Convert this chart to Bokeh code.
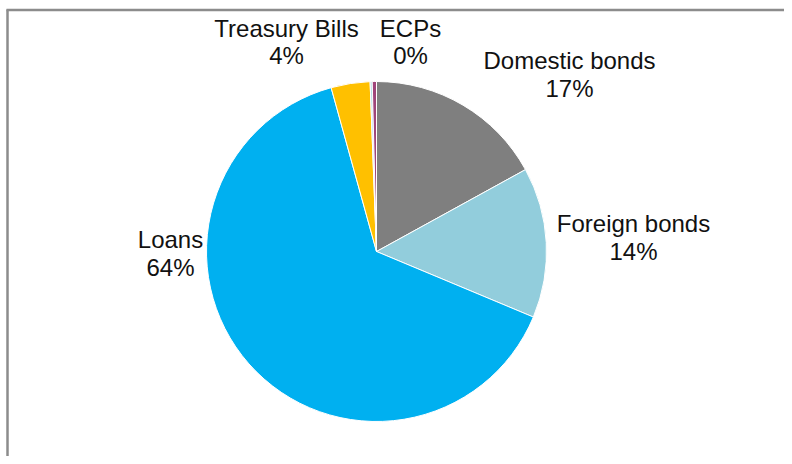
from bokeh.plotting import figure
from bokeh.models import Range1d, ColumnDataSource
from bokeh.core.properties import value
from bokeh.embed import file_html
from bokeh.resources import INLINE
import numpy as np

# ---- data ----
categories = ["Domestic bonds", "Foreign bonds", "Loans", "Treasury Bills", "Other", "ECPs"]
shares = [17.0, 14.3, 64.4, 3.7, 0.2, 0.4]
colors = ["#7F7F7F", "#92CDDC", "#00B0F0", "#FFC000", "#B7DEE8", "#A0457A"]
labelled = ["Treasury Bills", "ECPs", "Domestic bonds", "Foreign bonds", "Loans"]
label_pct = ["4%", "0%", "17%", "14%", "64%"]

# ---- layout (screenshot pixel coordinates) ----
W, H = 784, 456
cx, cy_img, R = 376, 251, 170
label_x = [286, 410, 569, 633, 170]
label_y1 = [28, 28, 60, 223, 239]
label_y2 = [55, 55, 88, 251, 267]

def ydata(y_img):
    return H - y_img

p = figure(width=W, height=H, output_backend="svg", toolbar_location=None,
           x_range=Range1d(0, W), y_range=Range1d(0, H), min_border=0)
p.axis.visible = False
p.grid.visible = False
p.outline_line_color = None
p.background_fill_color = "white"

vals = np.array(shares) / sum(shares)
cum = np.concatenate([[0], np.cumsum(vals)])
start = np.pi / 2 - cum[:-1] * 2 * np.pi
end = np.pi / 2 - cum[1:] * 2 * np.pi
src = ColumnDataSource(dict(start=start, end=end, color=colors, cat=categories))
p.wedge(x=cx, y=ydata(cy_img), radius=R, start_angle="start", end_angle="end",
        direction="clock", fill_color="color", line_color="white", line_width=1, source=src)

# frame (left and top)
p.segment(x0=[7, 6], y0=[ydata(9), ydata(9.5)], x1=[7, W + 10], y1=[ydata(H + 10), ydata(9.5)],
          line_color="#8C8C8C", line_width=2.5)

font = value("Liberation Sans")
p.text(x=label_x, y=[ydata(v) for v in label_y1], text=labelled, text_align="center",
       text_baseline="middle", text_font=font, text_font_size="24px", text_color="#111111")
p.text(x=label_x, y=[ydata(v) for v in label_y2], text=label_pct, text_align="center",
       text_baseline="middle", text_font=font, text_font_size="24px", text_color="#111111")

open("out.html", "w").write(file_html(p, INLINE))
